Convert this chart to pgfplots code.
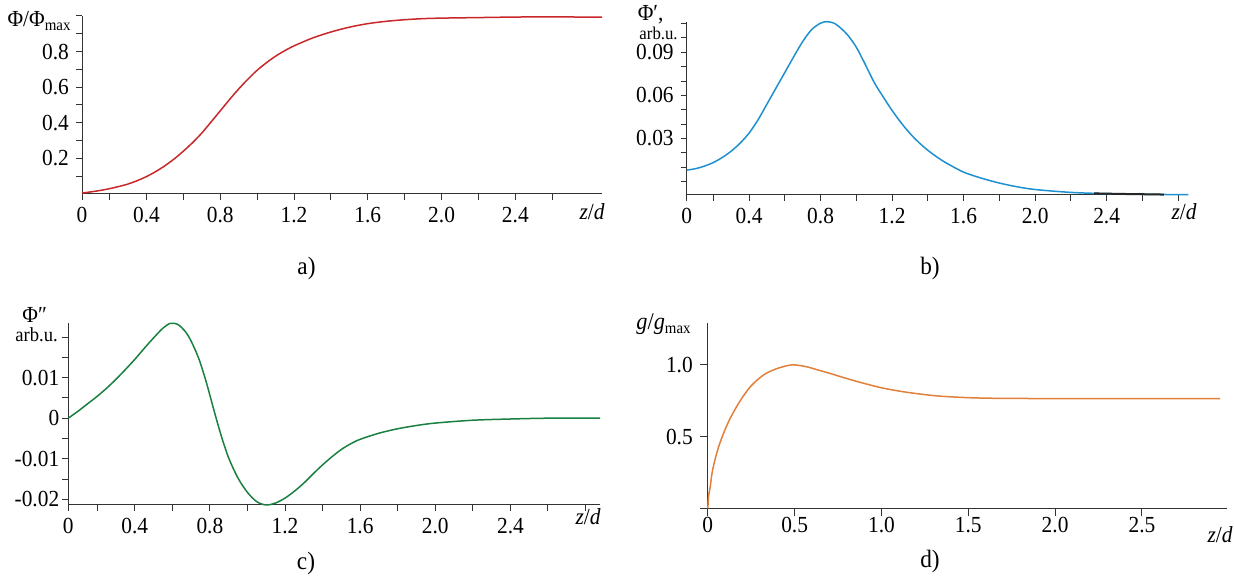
\documentclass[border=0pt]{standalone}
\usepackage{fontspec}
\setmainfont{Liberation Serif}[FakeStretch=0.93]
\usepackage{pgfplots}
\pgfplotsset{compat=1.18}

\definecolor{cred}{RGB}{200,40,42}
\definecolor{cblue}{RGB}{30,144,208}
\definecolor{cgreen}{RGB}{26,128,64}
\definecolor{corange}{RGB}{226,128,58}

\pgfplotsset{
  panel/.style={scale only axis, axis lines*=left, clip=false,
    tick align=outside, major tick length=3pt, minor tick length=3pt,
    axis line style={black!80, line width=0.5pt},
    every tick/.style={black!80, line width=0.5pt},
    tick label style={font=\fontsize{11.5}{13}\selectfont},
    scaled ticks=false,
    /pgf/number format/assume math mode=true},
}

\begin{document}
\begin{tikzpicture}
\useasboundingbox (0,0) rectangle (617pt,288pt);

% a)
\begin{axis}[panel, at={(41pt,191.1pt)}, anchor=south west, width=260pt, height=88.9pt,
  xmin=0.05, xmax=2.87, ymin=0, ymax=1.0,
  xtick={0.05,0.4,0.8,1.2,1.6,2.0,2.4}, xticklabels={0,0.4,0.8,1.2,1.6,2.0,2.4},
  minor xtick={0.2,0.6,1.0,1.4,1.8,2.2,2.6},
  ytick={0.2,0.4,0.6,0.8}, yticklabels={0.2,0.4,0.6,0.8},
  minor ytick={0.1,0.3,0.5,0.7,0.9,1.0}]
\addplot[cred, line width=0.75pt, smooth] coordinates {
(0.05,0.004)(0.1,0.011)(0.15,0.019)(0.2,0.029)(0.25,0.041)(0.3,0.055)(0.35,0.074)(0.4,0.097)
(0.45,0.125)(0.5,0.158)(0.55,0.196)(0.6,0.24)(0.65,0.288)(0.7,0.342)(0.75,0.404)(0.8,0.467)
(0.85,0.53)(0.9,0.59)(0.95,0.645)(1.0,0.695)(1.05,0.737)(1.1,0.774)(1.15,0.805)(1.2,0.832)
(1.3,0.876)(1.4,0.91)(1.5,0.937)(1.6,0.957)(1.7,0.97)(1.8,0.979)(1.9,0.985)(2.0,0.988)
(2.2,0.991)(2.4,0.994)(2.6,0.995)(2.87,0.993)};
\end{axis}

% b)
\begin{axis}[panel, at={(343.35pt,190.5pt)}, anchor=south west, width=250.8pt, height=86.65pt,
  xmin=0.051, xmax=2.857, ymin=-0.0093, ymax=0.1113,
  xtick={0.051,0.4,0.8,1.2,1.6,2.0,2.4}, xticklabels={0,0.4,0.8,1.2,1.6,2.0,2.4},
  minor xtick={0.2,0.6,1.0,1.4,1.8,2.2,2.6,2.8},
  ytick={0.03,0.06,0.09}, yticklabels={0.03,0.06,0.09},
  minor ytick={0,0.01,0.02,0.04,0.05,0.07,0.08,0.10,0.11}]
\addplot[cblue, line width=0.75pt, smooth] coordinates {
(0.051,0.0080)(0.1,0.0090)(0.15,0.0108)(0.2,0.0133)(0.25,0.0168)(0.3,0.0212)(0.35,0.0268)
(0.4,0.0338)(0.45,0.0430)(0.5,0.0540)(0.55,0.0650)(0.6,0.0760)(0.65,0.0870)(0.7,0.0975)
(0.75,0.1058)(0.8,0.1103)(0.835,0.1113)(0.87,0.1105)(0.9,0.1082)(0.95,0.1022)(1.0,0.0935)
(1.05,0.0815)(1.1,0.0690)(1.15,0.0590)(1.2,0.0495)(1.25,0.0410)(1.3,0.0335)(1.35,0.0272)
(1.4,0.0218)(1.45,0.0172)(1.5,0.0132)(1.6,0.0066)(1.7,0.0024)(1.8,-0.0010)(1.9,-0.0036)
(2.0,-0.0055)(2.2,-0.0075)(2.4,-0.0084)(2.6,-0.0088)(2.857,-0.0091)};
\addplot[black!85, line width=1pt, smooth] coordinates {
(2.33,-0.0082)(2.5,-0.0086)(2.62,-0.0088)(2.72,-0.0090)};
\end{axis}

% c)
\begin{axis}[panel, at={(34.15pt,35.5pt)}, anchor=south west, width=265.85pt, height=90.85pt,
  xmin=0.046, xmax=2.877, ymin=-0.0214, ymax=0.0234,
  xtick={0.046,0.4,0.8,1.2,1.6,2.0,2.4}, xticklabels={0,0.4,0.8,1.2,1.6,2.0,2.4},
  minor xtick={0.2,0.6,1.0,1.4,1.8,2.2,2.6,2.8},
  ytick={-0.02,-0.01,0,0.01}, yticklabels={-0.02,-0.01,0,0.01},
  minor ytick={-0.015,-0.005,0.005,0.015,0.02},
  yticklabel style={xshift=2pt}]
\addplot[cgreen, line width=0.75pt, smooth] coordinates {
(0.046,0)(0.1,0.0018)(0.15,0.0036)(0.2,0.0054)(0.25,0.0074)(0.3,0.0096)(0.35,0.0120)
(0.4,0.0145)(0.45,0.0172)(0.5,0.0198)(0.55,0.0222)(0.59,0.0234)(0.63,0.0231)(0.67,0.0213)
(0.7,0.0190)(0.74,0.0148)(0.78,0.0090)(0.82,0.0022)(0.86,-0.0043)(0.9,-0.0098)(0.95,-0.0148)
(1.0,-0.0183)(1.05,-0.0206)(1.1,-0.0214)(1.15,-0.0209)(1.2,-0.0197)(1.25,-0.0180)(1.3,-0.0160)
(1.35,-0.0137)(1.4,-0.0115)(1.45,-0.0095)(1.5,-0.0077)(1.55,-0.0063)(1.6,-0.0052)(1.7,-0.0037)
(1.8,-0.0026)(1.9,-0.0018)(2.0,-0.0012)(2.2,-0.0005)(2.4,-0.0002)(2.6,0)(2.877,0)};
\end{axis}

% d)
\begin{axis}[panel, at={(353.9pt,33.85pt)}, anchor=south west, width=259.6pt, height=92.5pt,
  xmin=0, xmax=2.99, ymin=0, ymax=1.29,
  xtick={0,0.5,1.0,1.5,2.0,2.5}, xticklabels={0,0.5,1.0,1.5,2.0,2.5},
  ytick={0,0.5,1.0}, yticklabels={,0.5,1.0},
  major tick length=4pt,
  xticklabel style={yshift=3pt}]
\addplot[corange, line width=0.75pt, smooth] coordinates {
(0,0)(0.005,0.09)(0.014,0.151)(0.025,0.25)(0.041,0.337)(0.06,0.42)(0.087,0.512)(0.12,0.605)
(0.155,0.686)(0.2,0.775)(0.246,0.849)(0.29,0.9)(0.337,0.942)(0.405,0.977)(0.485,1.0)
(0.565,0.988)(0.63,0.966)(0.70,0.942)(0.78,0.912)(0.86,0.884)(0.986,0.844)(1.07,0.824)
(1.157,0.807)(1.316,0.784)(1.487,0.772)(1.658,0.767)(2.0,0.765)(2.5,0.765)(2.95,0.765)};
\end{axis}

% axis titles and panel labels
\node[anchor=base east, font=\fontsize{11.5}{13}\selectfont, inner sep=0pt] at (36pt,274.5pt) {Φ/Φ\textsubscript{max}};
\node[anchor=base east, font=\fontsize{11.5}{13}\selectfont, inner sep=0pt] at (302.5pt,178pt) {\textit{z}/\textit{d}};
\node[font=\fontsize{12.5}{14}\selectfont] at (153.25pt,154pt) {a)};

\node[anchor=base west, font=\fontsize{11.5}{13}\selectfont, inner sep=0pt] at (318.7pt,277.5pt) {Φ′,};
\node[anchor=base east, font=\fontsize{9}{11}\selectfont, inner sep=0pt] at (339pt,268pt) {arb.u.};
\node[anchor=base east, font=\fontsize{11.5}{13}\selectfont, inner sep=0pt] at (598.5pt,178pt) {\textit{z}/\textit{d}};
\node[font=\fontsize{12.5}{14}\selectfont] at (465pt,154pt) {b)};

\node[anchor=base west, font=\fontsize{11.5}{13}\selectfont, inner sep=0pt] at (11pt,126.5pt) {Φ″};
\node[anchor=base west, font=\fontsize{10}{12}\selectfont, inner sep=0pt] at (7.5pt,117pt) {arb.u.};
\node[anchor=base east, font=\fontsize{11.5}{13}\selectfont, inner sep=0pt] at (300.5pt,25.5pt) {\textit{z}/\textit{d}};
\node[font=\fontsize{12.5}{14}\selectfont] at (153pt,6.5pt) {c)};

\node[anchor=base west, font=\fontsize{12}{13}\selectfont, inner sep=0pt] at (318pt,123pt) {\textit{g}/\textit{g}\textsubscript{max}};
\node[anchor=base east, font=\fontsize{11.5}{13}\selectfont, inner sep=0pt] at (616.5pt,16.5pt) {\textit{z}/\textit{d}};
\node[font=\fontsize{12.5}{14}\selectfont] at (465pt,7.15pt) {d)};
\end{tikzpicture}
\end{document}
